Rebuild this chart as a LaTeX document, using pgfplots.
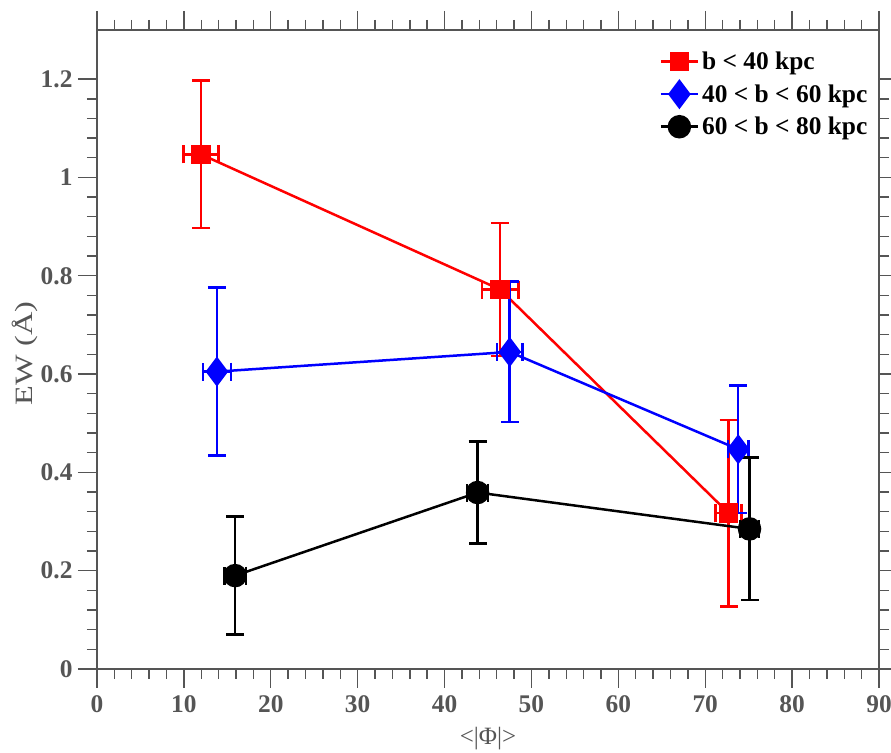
\documentclass[border=0pt]{standalone}
\usepackage{fontspec}
\setmainfont{Liberation Serif}
\newfontfamily\widefont[FakeStretch=1.3]{Liberation Serif}
\usepackage{pgfplots}
\pgfplotsset{compat=1.18}
\definecolor{axgray}{HTML}{555555}
\begin{document}
\begin{tikzpicture}
\begin{axis}[name=ax,
 scale only axis, width=782bp, height=639bp,
 xmin=0, xmax=90, ymin=0, ymax=1.3,
 xtick={0,10,...,90}, ytick={0,0.2,...,1.2},
 minor x tick num=4, minor y tick num=4,
 tick align=outside,
 major tick length=19bp, minor tick length=10bp,
 axis line style={axgray, line width=1.6bp},
 every tick/.style={axgray, line width=1.4bp},
 ticklabel style={font=\bfseries\fontsize{25.5}{25.5}\selectfont, text=axgray},
 /pgf/number format/assume math mode=true,
 xticklabel style={yshift=-4bp},
 yticklabel style={xshift=-2bp},
 label style={font=\fontsize{25}{25}\selectfont, text=axgray},
 xlabel={<|Φ|>}, ylabel={\widefont EW (Å)},
 xlabel style={at={(0.5,0)}, anchor=north, yshift=-55bp},
 ylabel style={at={(0,0.5)}, anchor=south, yshift=56bp, xshift=-4bp},
 legend cell align=left,
 legend style={draw=none, fill=none, at={(0.993,0.972)}, anchor=north east,
   font=\bfseries\fontsize{25.5}{25.5}\selectfont, row sep=8bp,
   nodes={inner xsep=3bp}},
 legend image code/.code={\draw[#1, line width=2.5bp] (0bp,0bp) -- (37bp,0bp); \draw[#1, only marks, mark repeat=1] plot coordinates {(18.5bp,0bp)};},
 error bars/error bar style={line width=2.5bp},
 error bars/error mark options={rotate=90, mark size=9bp, line width=2.5bp},
]
\addplot[red, line width=2.5bp, mark=square*, mark size=8.5bp,
  error bars/.cd, x dir=both, x explicit, y dir=both, y explicit]
 coordinates {(11.97,1.047)+-(2.0,0.15) (46.4,0.772)+-(2.1,0.135) (72.7,0.317)+-(1.5,0.19)};
\addlegendentry{b < 40 kpc}
\addplot[blue, line width=2.5bp, mark=diamond*, mark size=13bp,
  error bars/.cd, x dir=both, x explicit, y dir=both, y explicit]
 coordinates {(13.8,0.605)+-(1.6,0.171) (47.5,0.645)+-(1.45,0.143) (73.8,0.447)+-(1.2,0.13)};
\addlegendentry{40 < b < 60 kpc}
\addplot[black, line width=2.5bp, mark=*, mark size=10.5bp,
  error bars/.cd, x dir=both, x explicit, y dir=both, y explicit]
 coordinates {(15.9,0.19)+-(1.25,0.12) (43.8,0.359)+-(1.2,0.104) (75.1,0.285)+-(1.1,0.145)};
\addlegendentry{60 < b < 80 kpc}
\end{axis}
\pgfresetboundingbox
\path[use as bounding box] ([xshift=-97bp,yshift=-84bp]ax.south west) rectangle ([xshift=12bp,yshift=30bp]ax.north east);
\end{tikzpicture}
\end{document}
